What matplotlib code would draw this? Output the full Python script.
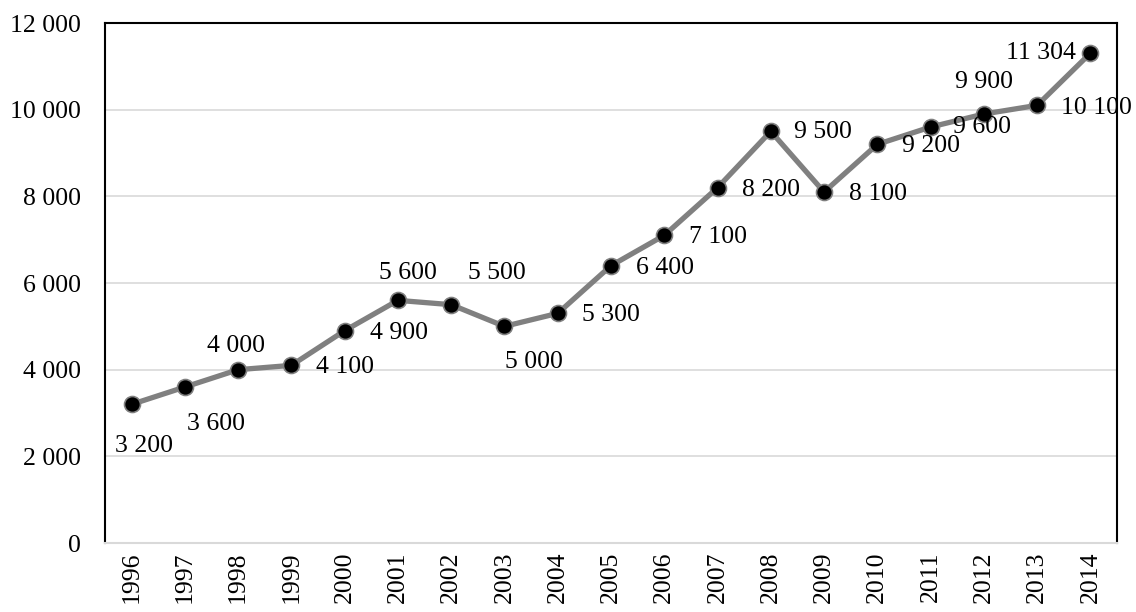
import matplotlib
matplotlib.use("Agg")
import matplotlib.pyplot as plt
from matplotlib.ticker import FuncFormatter

years = [str(y) for y in range(1996, 2015)]
values = [3200, 3600, 4000, 4100, 4900, 5600, 5500, 5000, 5300, 6400,
          7100, 8200, 9500, 8100, 9200, 9600, 9900, 10100, 11304]
labels = ["3 200", "3 600", "4 000", "4 100", "4 900", "5 600", "5 500", "5 000",
          "5 300", "6 400", "7 100", "8 200", "9 500", "8 100", "9 200", "9 600",
          "9 900", "10 100", "11 304"]
# label offsets in pixels (dx, dy), as placed in the original
offsets = [(12, -42), (31, -37), (-2, 24), (54, -2), (54, -2), (10, 27), (46, 32),
           (29, -36), (53, -2), (54, -2), (54, -2), (53, -2), (52, -1), (54, -2),
           (54, -2), (51, 0), (0, 32), (59, -3), (-49, 0)]

plt.rcParams["font.family"] = ["Liberation Serif", "DejaVu Serif"]
FS = 18.5

fig = plt.figure(figsize=(11.36, 6.12), dpi=100)
ax = fig.add_axes([0.0924, 0.1127, 0.8909, 0.8497])

x = list(range(len(years)))
ax.plot(x, values, color="#808080", lw=3.8, marker="o", ms=11.5,
        mfc="black", mec="#808080", mew=1.2, zorder=3)

for xi, v, lab, (dx, dy) in zip(x, values, labels, offsets):
    ax.annotate(lab, (xi, v), xytext=(dx, dy), textcoords="offset pixels",
                ha="center", va="center", fontsize=FS, zorder=4)

ax.set_xlim(-0.5, len(years) - 0.5)
ax.set_ylim(0, 12000)
ax.set_yticks(range(0, 12001, 2000))
ax.yaxis.set_major_formatter(FuncFormatter(lambda v, p: f"{int(v):,}".replace(",", " ")))
ax.set_xticks(x)
ax.set_xticklabels(years, rotation=90)
ax.tick_params(axis="both", length=0, labelsize=FS)
ax.tick_params(axis="y", pad=17.5)
ax.tick_params(axis="x", pad=6)

ax.grid(axis="y", color="#d9d9d9", lw=1.2)
ax.set_axisbelow(True)
for s in ["top", "left", "right"]:
    ax.spines[s].set_color("black")
    ax.spines[s].set_linewidth(1.5)
ax.spines["bottom"].set_color("#d9d9d9")
ax.spines["bottom"].set_linewidth(1.5)

fig.savefig("out.png", dpi=100)
